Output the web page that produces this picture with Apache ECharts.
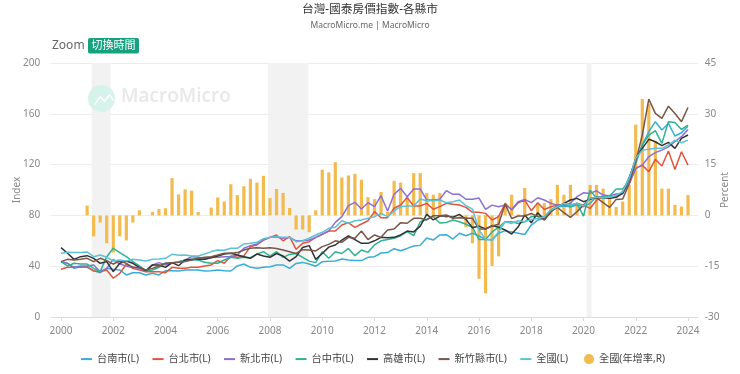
<!DOCTYPE html>
<html><head><meta charset="utf-8">
<script src="https://cdn.jsdelivr.net/npm/echarts@6/dist/echarts.min.js"></script>
<style>html,body{margin:0;padding:0;background:#fff}#c{width:740px;height:374px}</style>
</head><body><div id="c"></div>
<script>
const yearLabelEvery = 8;
const tainan = [43.6,42.3,38.3,39.6,39.1,36.5,34.9,38.3,37.6,37,33.1,34.9,34.9,33.1,34.4,33.1,36.5,36.5,36.2,37,37,37,36.2,36.5,37,36.5,36.2,40.2,41.7,39.1,38.3,39.1,
39.6,41,41,38.3,42.2,43,41.7,39.9,43.6,43.8,44.1,45.7,44.9,44.4,44.4,47,47.5,50.4,50.7,53.8,52.2,54,55.9,56.4,62.2,60.6,64.6,64.8,61.4,65.9,64,65.9,63.8,61.1,60.6,
66,68,67,66,65,72.4,76.3,77.6,83.7,86.8,87.4,86.8,88.1,86.8,89.5,94.7,93.4,94.2,94.7,98.6,110.4,122.3,135.4,145.9,153.8,147.2,152.4,142.5,145.1,150.3];
const taipei = [37.6,39.1,39.1,39.1,39.6,36.2,35.7,37,30.5,34.4,41.5,38.3,37,35.7,35.7,35.7,34.9,39.1,38.3,38.3,39.1,39.1,40.2,41,44.4,42.3,48.1,47,48.1,55.4,56.7,60.6,
62.7,64.6,60,63.3,53.3,58,59.3,62.7,65.3,67.7,67.7,72.4,74.3,70.6,73.2,75.8,83,78.2,78.2,85.6,88.2,94,87.4,87.4,89.5,84.8,86.9,89.5,88.7,88.2,86.3,82.4,82.4,81.6,76.4,79,
89.5,84.2,90,92.1,83.7,90,84.7,86.8,88.1,88.1,88.1,89.5,88.1,85.5,92,94.7,93.4,95.2,98.6,105.2,117,119.6,114.4,124.1,118.9,130.7,116.2,130.1,119.6];
const newTaipei = [43.6,42.3,39.1,40.2,40.2,41,35.7,38.3,45.4,41.7,40.2,38.9,38.3,35.7,41,42.8,41,42.3,43.6,44.9,47.5,47,46.2,47,47,47.5,47.5,48.8,54.1,56.2,57.5,60.6,
62.7,63,62,62.7,60,60,60.6,62.7,65,67.7,74.5,79,87.7,90.3,85,90,86.9,95.5,83.5,96.6,101.3,94.7,100.8,100.8,92.1,92.1,92.7,99.5,96.6,96.6,92.7,92.7,93.7,84.8,
88.1,86.8,88.1,84.7,90.8,92.6,90,93.9,92.1,89.5,88.1,88.1,89.5,94.7,97.8,97.3,99.4,96,95.5,96.8,97.3,105.2,117,119.6,126.2,129.4,131.4,134,138,142,147.7];
const taichung = [43.6,40.2,42.3,41.7,41.7,38.3,35.7,47.5,54.1,50.7,47.5,43.6,40.2,36.5,37,39.1,42.3,42.8,43.1,44.9,44.9,44.9,43.1,42.3,42.3,44.9,47,46.2,47,46.7,49.6,51.5,
48,51.4,47,49.3,50,47,44,42.8,51.4,46.2,51.4,50,54,48.3,52.8,50.9,56.7,60,61,62,64,67.2,64,75,77,79,74,74.5,76.4,75,73,70.6,61,61,67,70.6,
75,75,73.7,75,79,79.5,79,84.2,87.4,88.1,86.8,89.5,79.5,99.9,93.4,94.7,95.2,100.7,100.7,107.8,121,135.4,143.3,146.7,136.7,153.8,153.2,147.7,151.1];
const kaohsiung = [54.6,50.2,45.4,47.5,48.3,46.2,42.3,43.6,35.7,42.3,44.1,42.3,39.1,36.5,41,41,39.1,42.8,40.4,44.9,45.4,45.4,45.4,46.7,48.1,49.6,50.2,48.8,47.5,46.2,49.6,48.1,
47,50,48,44,47.5,54.8,56.2,45.4,50,55,56.7,60.6,63.8,61,58,58,60,62.7,62.4,62.7,64.6,67.7,67,71.6,80.8,76.4,79.5,79.8,78.5,80.8,76.9,70.3,71.6,69.3,72,70.6,68.5,65.3,
71,80.3,74.2,82.1,76.3,82.9,86.8,89.5,92.1,93.4,90.8,92.6,94.2,94.2,93.4,94.2,97.3,109.1,124.9,132.8,139.9,138,134.9,137.5,132.8,140.6,143.3];
const hsinchu = [43.6,45.4,44.9,45.4,46.2,43.6,46.2,44.4,41.7,44.1,42.3,39.1,38.9,37,38.3,40.2,42.3,42.8,43.1,43.6,44.9,46.2,47,47.5,48.8,50.2,50.2,50.7,52.8,54.1,54.6,54.1,
54.6,54,52.8,51.4,50,53,52.8,52,55.4,57.2,60,58.8,62.7,62,67.7,61,64.6,62.7,68.5,69.3,74.3,73.8,77.7,77.7,76.4,79.8,79.8,80.3,77.7,78.2,77.7,77.7,69.3,69.3,
71.6,73,88.9,77.6,79.5,79.5,81.6,79,76.8,82.9,86.3,82.1,78.4,82.9,88.1,93.4,93.9,90,86.3,92.6,92.9,105,122.3,143.3,171.6,160.3,156.4,166,160.3,153.8,165];
const national = [50.2,50.9,50.7,50.7,51.2,47.5,48.8,47,44.1,44.9,44.1,45.4,44.9,44.1,45.4,45.7,46.2,49.4,48.6,48.8,48.1,48.1,49.6,51.5,52.8,52.5,54.1,54.1,57.5,58,58.8,61.7,
62.7,63.3,62.7,62.7,59.3,60,62,64.6,66.7,69.8,70.6,75.8,73.8,75.8,76.4,77.7,79,81.6,79,83.5,86.9,87.4,87.4,92.9,91.6,91.6,92.1,90,90.8,92.1,87.7,85,68.5,61,61,67,
75,73.7,75.8,75,76.8,77.6,79,84.2,86.8,89.5,88.1,89.5,87.4,93.4,94.2,94.2,94.2,95.7,98.6,109.1,124.9,131.4,132,132.8,132.8,135.4,139.3,137.2,139.3];
const yoy = [null,null,null,null,2.9,-6.2,-2.1,-8.2,-11,-6.2,-7.4,-2.1,1.5,0,1,1.9,2.1,11,6.2,7.7,7.3,1,0,2.3,5.3,4.1,9.2,6,8.6,10.8,9.7,11.7,5.1,7.8,6.6,2.2,
-4.2,-4.2,-5,1.5,13.5,12.7,15.7,11.2,11.8,12.3,10.5,5.4,4.8,6.9,1.1,10.2,9.7,5.4,12.5,12.5,6.6,6.1,6.6,-0.8,-0.2,-0.3,-3.5,-8.2,-18.7,-23,-14.9,-12.1,
3.1,6.1,0.3,8.1,0.5,3.6,3.6,4.8,9,6.1,9,3,0.5,9,9,7.9,6,2.5,4.1,9,26.8,34.4,33,22,7.9,7.9,3.1,2.6,6];
const recessions = [[2001.175,2001.9],[2007.92,2009.47],[2020.12,2020.31]];
const lineNames = ['台南市(L)','台北市(L)','新北市(L)','台中市(L)','高雄市(L)','新竹縣市(L)','全國(L)'];
const barName = '全國(年增率,R)';
const lineColors = ['#38add8','#e2553d','#8c6fd3','#2db391','#333333','#7a5548','#5cc3d6'];
const lineData = [tainan,taipei,newTaipei,taichung,kaohsiung,hsinchu,national];

const FONT = '"Noto Sans","Noto Sans CJK TC",sans-serif';
// one blank band either side of the 97 quarters, so the axis runs past 2000 and 2024
const categories = [''].concat(tainan.map((_,i)=>String(2000+Math.floor(i/4)))).concat(['']);
const barValues = [null].concat(yoy).concat([null]);
const toXY = a => a.map((v,i)=>[2000+i*0.25,v]);
const chart = echarts.init(document.getElementById('c'));
chart.setOption({
  animation:false,
  textStyle:{fontFamily:FONT},
  title:{text:'台灣-國泰房價指數-各縣市',subtext:'MacroMicro.me | MacroMicro',left:'center',top:-1.5,itemGap:6,
    textStyle:{fontSize:11.7,fontWeight:'normal',color:'#333',fontFamily:FONT},
    subtextStyle:{fontSize:8.5,color:'#666',fontFamily:FONT}},
  grid:{left:51.2,right:42.2,top:63,bottom:57,outerBoundsMode:'none'},
  legend:[
   {left:76,top:349,itemWidth:11,itemHeight:2,itemGap:13.5,icon:'rect',itemStyle:{borderWidth:0},
    textStyle:{fontSize:10.2,color:'#444',fontFamily:FONT},data:lineNames},
   {left:579,top:349,itemWidth:10,itemHeight:10,icon:'circle',itemStyle:{borderWidth:0},
    textStyle:{fontSize:10.2,color:'#444',fontFamily:FONT},data:[barName]}
  ],
  xAxis:[
   {type:'category',data:categories,boundaryGap:true,
    axisLine:{show:true,lineStyle:{color:'#dcdcdc'}},
    axisTick:{show:true,alignWithLabel:true,length:4,interval:i=>(i-1)%yearLabelEvery===0,lineStyle:{color:'#dcdcdc'}},
    axisLabel:{color:'#888',fontSize:10,margin:9,interval:i=>(i-1)%yearLabelEvery===0}},
   {type:'value',min:1999.625,max:2024.375,show:false,splitLine:{show:false}}
  ],
  yAxis:[
   {type:'value',min:0,max:200,interval:40,name:'Index',nameLocation:'middle',nameGap:34,nameMoveOverlap:false,
    nameTextStyle:{color:'#888',fontSize:10,verticalAlign:'middle'},axisLine:{show:false},axisTick:{show:false},
    axisLabel:{color:'#888',fontSize:10,margin:11},splitLine:{lineStyle:{color:'#ececec'}}},
   {type:'value',min:-30,max:45,interval:15,name:'Percent',nameLocation:'middle',nameGap:27,nameMoveOverlap:false,
    nameTextStyle:{color:'#888',fontSize:10,verticalAlign:'middle'},axisLine:{show:false},axisTick:{show:false},
    axisLabel:{color:'#888',fontSize:10,margin:7},splitLine:{show:false}}
  ],
  graphic:[
   {type:'text',left:52,top:40,style:{text:'Zoom',fontSize:12,fill:'#666',fontFamily:FONT}},
   {type:'rect',left:88,top:38,shape:{width:51,height:15.5,r:2},style:{fill:'#16a17f'}},
   {type:'text',left:91.5,top:40,style:{text:'切換時間',fontSize:11,fill:'#fff',fontFamily:FONT}},
   {type:'circle',left:88,top:85,z:5,shape:{r:13.5},style:{fill:'#d5f3ea'}},
   {type:'polyline',left:92,top:92,z:6,shape:{points:[[0,12],[6,4],[10,9],[15,2],[19,8]]},style:{stroke:'#fff',fill:null,lineWidth:1.5}},
   {type:'text',left:121,top:87,z:5,style:{text:'MacroMicro',fontSize:19,fontWeight:600,fill:'#e8e8e8',fontFamily:'"Open Sans",sans-serif'}}
  ],
  series:[
   {name:barName,type:'bar',xAxisIndex:0,yAxisIndex:1,barWidth:3.2,z:2,
    itemStyle:{color:'#f3ba4e'},data:barValues}
  ].concat(lineNames.map((n,i)=>({name:n,type:'line',xAxisIndex:1,yAxisIndex:0,symbol:'none',z:3+i,
    lineStyle:{width:1.5,color:lineColors[i]},itemStyle:{color:lineColors[i]},data:toXY(lineData[i]),
    markArea:i===0?{silent:true,itemStyle:{color:'#f2f2f2'},z:1,data:recessions.map(r=>[{xAxis:r[0]},{xAxis:r[1]}])}:undefined})))
});
</script></body></html>
